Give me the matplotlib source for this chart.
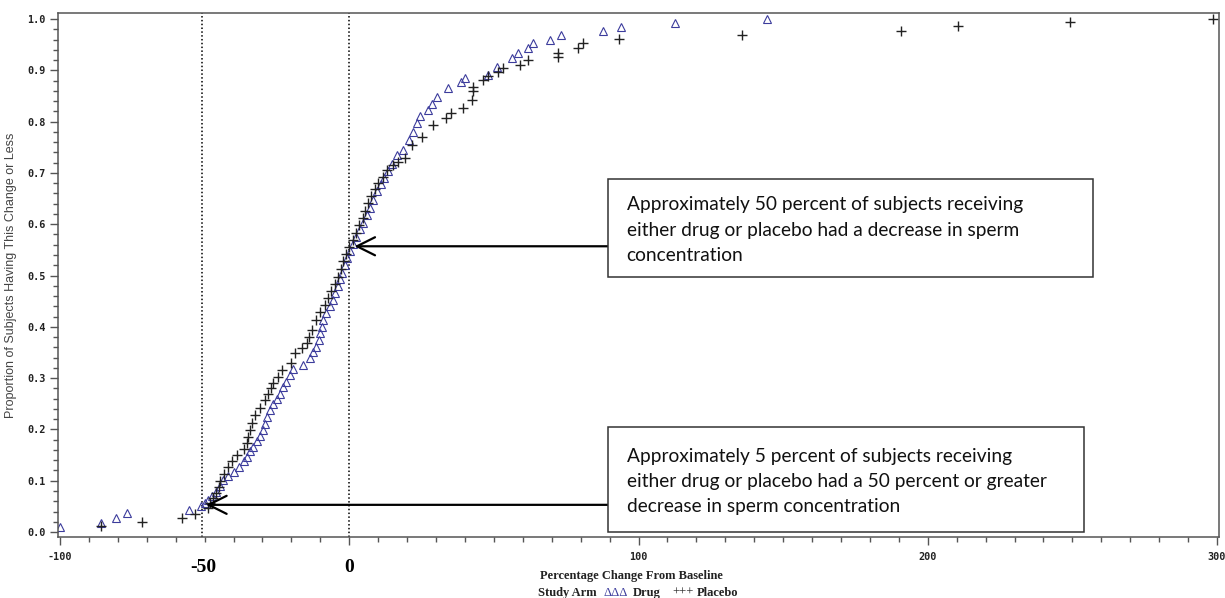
import matplotlib
matplotlib.use("Agg")
import matplotlib.pyplot as plt
from matplotlib.patches import Rectangle
from matplotlib.ticker import MultipleLocator

# cumulative proportions
drug_x = [-100, -85.8, -80.6, -76.8, -55.3, -51.2, -50, -49, -47.5, -46, -44.6, -43.5, -42, -40,
          -38, -36.5, -35.4, -34.2, -33.2, -32, -31, -29.7, -29, -28.5, -27.4, -26.3, -25, -24,
          -22.8, -21.7, -20.6, -19.5, -16, -13.6, -12.5, -11.4, -10.6, -10.1, -9.5, -9, -8, -6.7,
          -5.6, -5, -4, -3.2, -2.5, -1.5, -0.8, 0.2, 1.3, 2.3, 3.6, 4.8, 6, 7.1, 8.3, 9.5, 11, 12,
          13.5, 14.7, 16.4, 18.6, 20.5, 22, 23.3, 24.4, 27.2, 28.5, 30.2, 34.1, 38.8, 40, 48, 51,
          56.2, 58.3, 61.8, 63.6, 69.4, 73.2, 87.7, 94, 112.6, 144.4]
drug_y = [0.010, 0.018, 0.027, 0.037, 0.043, 0.050, 0.056, 0.062, 0.070, 0.078, 0.090, 0.102,
          0.110, 0.117, 0.127, 0.138, 0.147, 0.157, 0.166, 0.177, 0.188, 0.199, 0.211, 0.224,
          0.237, 0.250, 0.260, 0.270, 0.282, 0.293, 0.306, 0.318, 0.325, 0.340, 0.350, 0.360,
          0.374, 0.387, 0.400, 0.413, 0.426, 0.440, 0.453, 0.466, 0.480, 0.494, 0.505, 0.520,
          0.534, 0.548, 0.562, 0.575, 0.590, 0.603, 0.618, 0.632, 0.648, 0.664, 0.678, 0.690,
          0.703, 0.718, 0.735, 0.745, 0.765, 0.780, 0.797, 0.810, 0.823, 0.835, 0.848, 0.865,
          0.877, 0.885, 0.891, 0.907, 0.924, 0.934, 0.943, 0.953, 0.959, 0.969, 0.977, 0.984,
          0.992, 1.000]

placebo_x = [-86, -71.5, -58, -53.4, -49, -48, -47, -46, -45.2, -44.6, -43.2, -41.9, -40.4, -38.9,
             -36.5, -35.4, -35, -34.3, -33.7, -32.6, -30.9, -29.2, -28, -27.2, -26.3, -24.8, -23.3,
             -20, -18.8, -16.5, -14.7, -13.8, -13, -11.4, -10, -8.4, -7.3, -6.2, -5, -4, -3, -2.2,
             -1, 0, 1.3, 2.3, 3.5, 4.8, 5.6, 6.4, 7.6, 8.8, 10, 11.5, 13.2, 15.1, 17, 19.2, 21.6,
             25, 28.9, 33.6, 35.3, 39.2, 42.3, 42.7, 42.7, 46.2, 48, 51.5, 53.2, 59, 61.8, 72.1,
             72.1, 79, 80.7, 93.2, 135.7, 190.7, 210.4, 249.1, 298.5]
placebo_y = [0.012, 0.019, 0.027, 0.036, 0.046, 0.056, 0.066, 0.076, 0.088, 0.100, 0.113, 0.127,
             0.138, 0.150, 0.162, 0.173, 0.185, 0.198, 0.212, 0.228, 0.242, 0.257, 0.270, 0.280,
             0.290, 0.303, 0.316, 0.330, 0.349, 0.358, 0.368, 0.381, 0.394, 0.413, 0.428, 0.442,
             0.456, 0.470, 0.484, 0.497, 0.513, 0.528, 0.542, 0.555, 0.570, 0.583, 0.598, 0.612,
             0.626, 0.641, 0.655, 0.668, 0.680, 0.692, 0.705, 0.715, 0.722, 0.729, 0.754, 0.770,
             0.793, 0.807, 0.816, 0.826, 0.842, 0.860, 0.867, 0.881, 0.888, 0.897, 0.904, 0.910,
             0.920, 0.926, 0.933, 0.943, 0.953, 0.961, 0.969, 0.977, 0.986, 0.994, 1.000]

x_ticks = [-100, 0, 100, 200, 300]
x_tick_labels = ["-100", "", "100", "200", "300"]
y_ticks = [0.0, 0.1, 0.2, 0.3, 0.4, 0.5, 0.6, 0.7, 0.8, 0.9, 1.0]
ref_lines = [-51, 0]

note_50 = ("Approximately 50 percent of subjects receiving\n"
           "either drug or placebo had a decrease in sperm\n"
           "concentration")
note_5 = ("Approximately 5 percent of subjects receiving\n"
          "either drug or placebo had a 50 percent or greater\n"
          "decrease in sperm concentration")

W, H = 1225, 598
fig = plt.figure(figsize=(W / 100, H / 100), dpi=100)
ax = fig.add_axes([58 / W, 1 - 537 / H, (1219 - 58) / W, (537 - 13) / H])

drug_col = "#3c3c9c"
ax.plot(drug_x, drug_y, ls="none", marker="^", ms=5.5, mfc="none", mec=drug_col, mew=0.8)
ax.plot(placebo_x, placebo_y, ls="none", marker="+", ms=7, mec="#222222", mew=1.0)

for xv in ref_lines:
    ax.axvline(xv, color="black", ls=(0, (1, 1.5)), lw=1.1, zorder=1)

ax.set_xlim(-100.7, 300.7)
ax.set_ylim(-0.0097, 1.0117)

ax.set_xticks(x_ticks)
ax.set_xticklabels(x_tick_labels)
ax.xaxis.set_minor_locator(MultipleLocator(10))
ax.set_yticks(y_ticks)
ax.set_yticklabels([f"{v:.1f}" for v in y_ticks])
ax.yaxis.set_minor_locator(MultipleLocator(0.02))
ax.tick_params(which="major", length=6, width=1, color="#555555", direction="out")
ax.tick_params(which="minor", length=3.5, width=1, color="#555555", direction="out")
ax.tick_params(axis="x", pad=5)
ax.tick_params(axis="y", pad=3)
for lab in ax.get_xticklabels() + ax.get_yticklabels():
    lab.set_fontfamily("DejaVu Sans Mono")
    lab.set_fontweight("bold")
    lab.set_fontsize(7.3)
    lab.set_color("#222222")
for sp in ax.spines.values():
    sp.set_color("#555555")
    sp.set_linewidth(1.1)

ax.set_ylabel("Proportion of Subjects Having This Change or Less",
              fontfamily="Liberation Sans", fontsize=9, color="#444444")
ax.yaxis.set_label_coords((17 - 58) / (1219 - 58), 0.5)

# big labels for the two reference lines
for xv, txt in [(-50.5, "-50"), (0, "0")]:
    ax.text(xv, -0.058, txt, ha="center", va="center", fontfamily="Liberation Serif",
            fontweight="bold", fontsize=14, transform=ax.get_xaxis_transform())

serif = dict(fontfamily="Liberation Serif", fontsize=9, color="#222222")
fig.text(631 / W, 1 - 576 / H, "Percentage Change From Baseline", ha="center", va="center",
         fontweight="bold", **serif)
leg_y = 1 - 596 / H
fig.text(538 / W, leg_y, "Study Arm", ha="left", va="baseline", fontweight="bold", **serif)
fig.text(604 / W, leg_y, "\u0394\u0394\u0394", ha="left", va="baseline",
         fontfamily="Liberation Serif", fontsize=9, color=drug_col)
fig.text(633 / W, leg_y, "Drug", ha="left", va="baseline", fontweight="bold", **serif)
fig.text(672 / W, leg_y, "+++", ha="left", va="baseline", **serif)
fig.text(697 / W, leg_y, "Placebo", ha="left", va="baseline", fontweight="bold", **serif)

# annotation boxes with arrows
boxes = [
    (89.4, 0.497, 257.1 - 89.4, 0.688 - 0.497, note_50, (1.8, 0.557)),
    (89.4, 0.0, 254.0 - 89.4, 0.205, note_5, (-49.5, 0.053)),
]
for bx, by, bw, bh, txt, tip in boxes:
    ax.add_patch(Rectangle((bx, by), bw, bh, fill=True, fc="white", ec="#333333", lw=1.1,
                           zorder=4))
    ax.text(bx + 6.5, by + bh / 2 - 0.004, txt, ha="left", va="center", fontfamily="Lato",
            fontsize=13.8, linespacing=1.6, color="#111111", zorder=5)
    ax.annotate("", xy=tip, xytext=(bx, tip[1]),
                arrowprops=dict(arrowstyle="->,head_length=1.3,head_width=0.65", color="black",
                                lw=1.6, shrinkA=0, shrinkB=0, mutation_scale=10), zorder=3)

fig.savefig("out.png", dpi=100)
